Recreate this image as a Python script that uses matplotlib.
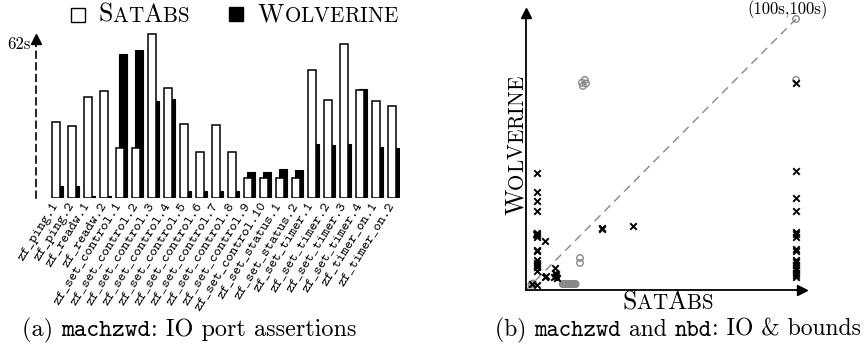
import matplotlib
matplotlib.use('Agg')
import matplotlib.pyplot as plt

# data (seconds)
labels = ['zf_ping.1', 'zf_ping.2', 'zf_readw.1', 'zf_readw.2',
          'zf_set_control.1', 'zf_set_control.2', 'zf_set_control.3',
          'zf_set_control.4', 'zf_set_control.5', 'zf_set_control.6',
          'zf_set_control.7', 'zf_set_control.8', 'zf_set_control.9',
          'zf_set_control.10', 'zf_set_status.1', 'zf_set_status.2',
          'zf_set_timer.1', 'zf_set_timer.2', 'zf_set_timer.3',
          'zf_set_timer.4', 'zf_timer_on.1', 'zf_timer_on.2']
satabs = [29.9, 28.3, 39.8, 42.1, 19.7, 19.7, 64.7, 43.3, 29.1, 18.1, 28.7,
          18.1, 7.9, 7.9, 7.9, 7.9, 50.4, 38.6, 60.6, 42.5, 38.2, 36.2]
wolverine = [4.7, 4.7, 0.8, 0.8, 56.7, 58.3, 38.2, 39.0, 2.8, 2.8, 2.8,
             2.8, 10.2, 10.2, 11.4, 11.0, 21.3, 20.9, 21.3, 42.9, 20.1, 19.7]

# scatter: black crosses (satabs, wolverine)
cross_x = [4.1, 4.1, 4.1, 4.1, 4.1, 4.1, 4.1, 3.7, 7.0, 4.1, 4.1, 4.1, 4.1,
           4.1, 4.1, 4.1, 4.1, 7.0, 7.4, 10.7, 10.7, 11.1, 10.4, 11.5, 11.0,
           28.1, 28.3, 39.6, 2.2,
           100, 100, 100, 100, 100, 100, 100, 100, 100, 100, 100, 100, 100,
           100, 100, 100, 100]
cross_y = [43.2, 36.2, 32.8, 29.2, 21.0, 20.3, 19.6, 20.6, 18.0, 14.8, 14.3,
           11.0, 10.0, 9.2, 8.5, 7.0, 1.8, 4.8, 5.2, 8.1, 6.3, 5.2, 4.8, 4.4,
           6.0, 22.5, 22.9, 23.6, 2.2,
           43.9, 34.0, 29.2, 21.4, 20.7, 19.6, 15.1, 14.5, 11.1, 10.2, 9.2,
           8.3, 7.4, 6.4, 5.5, 4.8, 76.4]
# scatter: gray circles
circ_x = [100, 100, 20.7, 21.8, 22.2, 21.1, 20.0, 20.0, 2.0, 2.6,
          13.6, 14.0, 14.4, 14.8, 15.2, 15.6, 16.0, 16.4, 16.8, 17.2, 17.6,
          18.0, 18.4]
circ_y = [100, 77.5, 76.5, 77.5, 76.2, 75.3, 11.8, 10.0, 2.0, 2.4,
          2.2, 2.2, 2.2, 2.2, 2.2, 2.2, 2.2, 2.2, 2.2, 2.2, 2.2, 2.2, 2.2]
diag = [0, 100]

W, H = 867, 350
plt.rcParams['axes.unicode_minus'] = False
fig = plt.figure(figsize=(W / 100, H / 100), dpi=100)
renderer = fig.canvas.get_renderer()


def fx(px):
    return px / W


def fy(py):
    return 1 - py / H


def pieces_text(x, y, pieces, rotation=0):
    # draw text pieces one after another, pixel coords from top-left
    for s, size, fam in pieces:
        t = fig.text(fx(x), fy(y), s, fontsize=size, family=fam, ha='left',
                     va='baseline', rotation=rotation, rotation_mode='anchor')
        bb = t.get_window_extent(renderer)
        if rotation == 0:
            x += bb.width
        else:
            y -= bb.height


def smallcaps(word, size):
    out = []
    for ch in word:
        if ch.isupper():
            out.append((ch, size, 'cmr10'))
        else:
            out.append((ch.upper(), size * 0.82, 'cmr10'))
    return out


FS = 17.5
LS = 18.5

# ---------- (a) bar chart ----------
ax1 = fig.add_axes([fx(36), fy(198), fx(400) - fx(36), (198 - 33) / H])
xs = list(range(len(labels)))
ax1.bar([x + 0.2 for x in xs], wolverine, width=0.5, color='black',
        edgecolor='black', lw=0.8, zorder=2)
ax1.bar(xs, satabs, width=0.5, facecolor='white', edgecolor='black',
        lw=1.1, zorder=3)
ax1.set_xlim(-1.25, 21.5)
ax1.set_ylim(0, 65)
for s in ['top', 'right', 'bottom']:
    ax1.spines[s].set_visible(False)
ax1.spines['left'].set_linestyle((0, (4, 3)))
ax1.spines['left'].set_linewidth(1.2)
ax1.spines['left'].set_bounds(0, 62)
ax1.plot([-1.25], [62.5], marker='^', color='black', ms=7, clip_on=False,
         transform=ax1.transData)
ax1.set_yticks([])
ax1.set_xticks(xs)
ax1.set_xticklabels(labels, rotation=58, ha='right', va='center',
                    rotation_mode='anchor', family='cmtt10', fontsize=10.2)
ax1.tick_params(axis='x', length=0, pad=4)
ax1.text(-1.6, 60.5, '62s', ha='right', va='center', family='cmr10',
         fontsize=12)

# legend
fig.lines.append(plt.Line2D([fx(77.5)], [fy(14.5)], marker='s', ms=10.5,
                            mfc='white', mec='black', mew=1,
                            transform=fig.transFigure))
fig.lines.append(plt.Line2D([fx(235.5)], [fy(14)], marker='s', ms=10,
                            mfc='black', mec='black',
                            transform=fig.transFigure))
pieces_text(98, 22, smallcaps('SatAbs', LS))
pieces_text(258, 22, smallcaps('Wolverine', LS))

pieces_text(22, 336, [('(a) ', FS, 'cmr10'), ('machzwd', FS, 'cmtt10'),
                      (': IO port assertions', FS, 'cmr10')])

# ---------- (b) scatter ----------
ax2 = fig.add_axes([fx(526), fy(290), (802 - 526) / W, (290 - 13) / H])
ax2.set_xlim(0, 102.2)
ax2.set_ylim(0, 102.2)
for s in ['top', 'right']:
    ax2.spines[s].set_visible(False)
for s in ['left', 'bottom']:
    ax2.spines[s].set_linewidth(1.3)
ax2.set_xticks([])
ax2.set_yticks([])
ax2.plot([1], [0], marker='>', color='black', ms=7, clip_on=False,
         transform=ax2.transAxes)
ax2.plot([0], [1], marker='^', color='black', ms=7, clip_on=False,
         transform=ax2.transAxes)
ax2.plot(diag, diag, color='#888888', lw=1, dashes=(6, 4), zorder=1)
ax2.scatter(circ_x, circ_y, s=22, facecolors='none', edgecolors='#888888',
            linewidths=1, zorder=2, clip_on=False)
ax2.scatter(cross_x, cross_y, s=22, marker='x', color='black',
            linewidths=1.4, zorder=3, clip_on=False)
fig.text(fx(788), fy(10), '(100s,100s)', ha='center', va='center',
         family='cmr10', fontsize=12)

pieces_text(622, 309, smallcaps('SatAbs', LS))
pieces_text(523, 215, smallcaps('Wolverine', LS), rotation=90)
pieces_text(495, 336, [('(b) ', 17, 'cmr10'), ('machzwd', 17, 'cmtt10'),
                       (' and ', 17, 'cmr10'), ('nbd', 17, 'cmtt10'),
                       (': IO & bounds', 17, 'cmr10')])

fig.savefig('out.png', dpi=100)
